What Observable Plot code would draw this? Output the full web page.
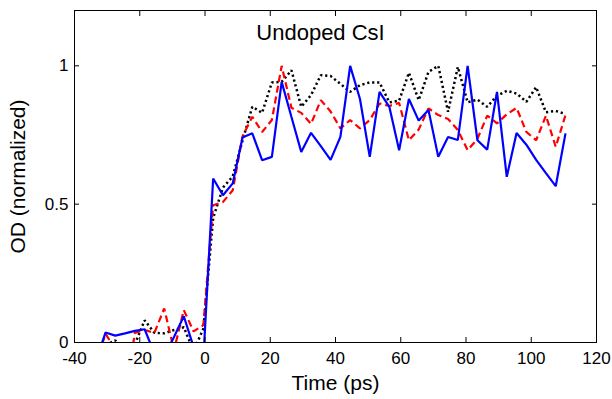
<!DOCTYPE html>
<html><head><meta charset="utf-8">
<script src="https://cdn.jsdelivr.net/npm/d3@7"></script>
<script src="https://cdn.jsdelivr.net/npm/@observablehq/plot@0.6"></script>
<style>body{margin:0;background:#fff;} #chart svg{display:block;}</style>
</head><body><div id="chart"></div>
<script>
const times = [-33.5,-30.5,-27.5,-24.5,-21.5,-18.5,-15.5,-12.5,-9.5,-6.5,-3.5,-0.5,
  2.5,5.5,8.5,11.5,14.5,17.5,20.5,23.5,26.5,29.5,32.5,35.5,38.5,41.5,44.5,47.5,50.5,53.5,
  56.5,59.5,62.5,65.5,68.5,71.5,74.5,77.5,80.5,83.5,86.5,89.5,92.5,95.5,98.5,101.5,104.5,107.5,110.5];
const blueValues = [-0.07,0.036,0.025,0.033,0.042,0.048,-0.04,-0.05,0.02,0.095,-0.016,-0.06,
  0.593,0.532,0.575,0.741,0.756,0.659,0.671,0.942,0.815,0.689,0.758,0.71,0.66,0.743,1.0,0.88,0.671,0.906,
  0.852,0.695,0.88,0.802,0.84,0.671,0.743,0.732,1.0,0.731,0.697,0.906,0.599,0.757,0.715,0.66,0.612,0.565,0.756];
const redValues = [-0.08,0.032,-0.025,-0.2,0.035,0.045,0.035,0.123,-0.028,0.117,0.04,0.063,
  0.496,0.508,0.55,0.745,0.816,0.761,0.804,1.0,0.848,0.83,0.79,0.876,0.835,0.774,0.804,0.774,0.804,0.864,
  0.855,0.866,0.731,0.77,0.846,0.822,0.808,0.768,0.695,0.736,0.82,0.792,0.825,0.848,0.761,0.731,0.82,0.707,0.822];
const blackValues = [-0.05,-0.01,0.008,-0.05,-0.006,0.08,0.035,0.033,0.045,0.055,-0.03,0.05,
  0.45,0.56,0.6,0.73,0.852,0.83,0.94,0.942,0.984,0.852,0.894,0.966,0.963,0.935,0.906,0.93,0.94,0.94,
  0.868,0.874,0.975,0.876,0.978,1.0,0.834,0.996,0.868,0.878,0.852,0.892,0.91,0.9,0.87,0.923,0.832,0.837,0.826];
const xTicks = [-40,-20,0,20,40,60,80,100,120];
const xTickLabels = ["-40","-20","0","20","40","60","80","100","120"];
const yTicks = [0,0.5,1];
const yTickLabels = ["0","0.5","1"];
const title = "Undoped CsI";
const xLabel = "Time (ps)";
const yLabel = "OD (normalized)";

const series = [
  {values: blackValues, stroke: "#000000", dash: "2.2,2.8", width: 2.5},
  {values: redValues, stroke: "#ff0000", dash: "7,4", width: 2.2},
  {values: blueValues, stroke: "#0000ff", dash: null, width: 2.2}
];
const lineMarks = series.map(s => Plot.line(times.map((t, i) => ({t, v: s.values[i]})), {
  x: "t", y: "v", stroke: s.stroke, strokeWidth: s.width,
  strokeDasharray: s.dash, clip: true, strokeLinejoin: "miter", strokeLinecap: "butt"
}));

const font = "'Liberation Sans', Arial, Helvetica, sans-serif";
const chart = Plot.plot({
  width: 612, height: 399,
  marginLeft: 74, marginRight: 16, marginTop: 10, marginBottom: 57,
  style: {fontFamily: font, fontSize: "17px", color: "#000", background: "#fff", overflow: "visible"},
  x: {domain: [-40, 120]},
  y: {domain: [0, 1.2]},
  marks: [
    ...lineMarks,
    Plot.axisX(xTicks, {anchor: "bottom", tickSize: 0, tickPadding: 9, label: null, fontSize: 17,
      tickFormat: d => xTickLabels[xTicks.indexOf(d)]}),
    Plot.axisX(xTicks, {anchor: "bottom", tickSize: -5, tickFormat: () => "", label: null}),
    Plot.axisX(xTicks, {anchor: "top", tickSize: -5, tickFormat: () => "", label: null}),
    Plot.axisY(yTicks, {anchor: "left", tickSize: 0, tickPadding: 6, label: null, fontSize: 17,
      tickFormat: d => yTickLabels[yTicks.indexOf(d)]}),
    Plot.axisY(yTicks, {anchor: "left", tickSize: -5, tickFormat: () => "", label: null}),
    Plot.axisY(yTicks, {anchor: "right", tickSize: -5, tickFormat: () => "", label: null}),
    Plot.frame({stroke: "#000", strokeWidth: 1}),
    Plot.text([title], {frameAnchor: "top", dy: 22, dx: -15, fontSize: 22, fill: "#000",
      textAnchor: "middle", lineAnchor: "middle"}),
    Plot.text([xLabel], {frameAnchor: "bottom", dy: 41, fontSize: 21, fill: "#000",
      textAnchor: "middle", lineAnchor: "middle"}),
    Plot.text([yLabel], {frameAnchor: "left", dx: -56, rotate: -90, fontSize: 21, fill: "#000",
      textAnchor: "middle", lineAnchor: "middle"})
  ]
});
document.getElementById("chart").appendChild(chart);
</script>
</body></html>
